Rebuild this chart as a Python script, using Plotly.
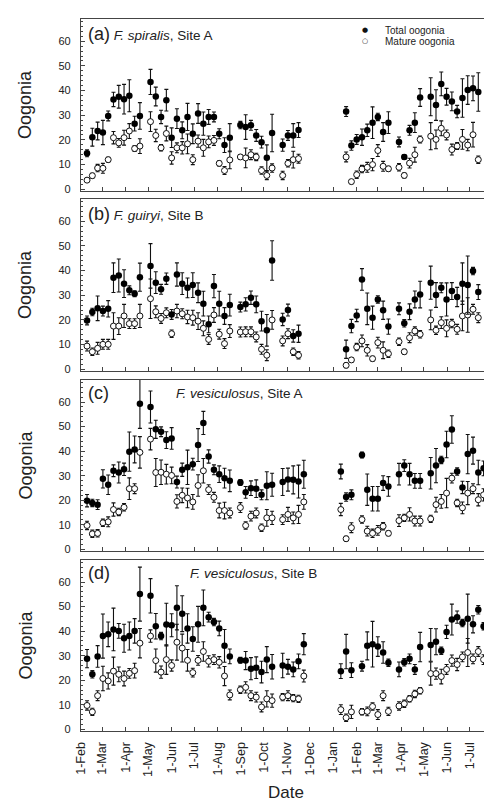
import plotly.graph_objects as go

# ---------------- data ----------------
sample_dates = [
    "2009-02-09", "2009-02-16", "2009-02-23", "2009-03-02", "2009-03-09", "2009-03-16", "2009-03-23",
    "2009-03-30", "2009-04-06", "2009-04-13", "2009-04-20", "2009-04-27", "2009-05-04", "2009-05-11",
    "2009-05-18", "2009-05-25", "2009-06-01", "2009-06-08", "2009-06-15", "2009-06-22", "2009-06-29",
    "2009-07-06", "2009-07-13", "2009-07-20", "2009-07-27", "2009-08-03", "2009-08-10", "2009-08-17",
    "2009-08-24", "2009-08-31", "2009-09-07", "2009-09-14", "2009-09-21", "2009-09-28", "2009-10-05",
    "2009-10-12", "2009-10-19", "2009-10-26", "2009-11-02", "2009-11-09", "2009-11-16", "2009-11-23",
    "2010-01-11", "2010-01-18", "2010-01-25", "2010-02-01", "2010-02-08", "2010-02-15", "2010-02-22",
    "2010-03-01", "2010-03-08", "2010-03-15", "2010-03-22", "2010-03-29", "2010-04-05", "2010-04-12",
    "2010-04-19", "2010-04-26", "2010-05-03", "2010-05-10", "2010-05-17", "2010-05-24", "2010-05-31",
    "2010-06-07", "2010-06-14", "2010-06-21", "2010-06-28", "2010-07-05", "2010-07-12", "2010-07-19",
    "2010-07-25",
]

tick_dates = ["2009-02-01", "2009-03-01", "2009-04-01", "2009-05-01", "2009-06-01", "2009-07-01",
              "2009-08-01", "2009-09-01", "2009-10-01", "2009-11-01", "2009-12-01", "2010-01-01",
              "2010-02-01", "2010-03-01", "2010-04-01", "2010-05-01", "2010-06-01", "2010-07-01"]
tick_labels = ["1-Feb", "1-Mar", "1-Apr", "1-May", "1-Jun", "1-Jul", "1-Aug", "1-Sep", "1-Oct",
               "1-Nov", "1-Dec", "1-Jan", "1-Feb", "1-Mar", "1-Apr", "1-May", "1-Jun", "1-Jul"]
y_ticks = [0, 10, 20, 30, 40, 50, 60]

# Panel (a) F. spiralis, Site A
total_a = [14.6, 21.1, 23.6, 23.0, 29.7, 36.4, 37.5, 36.5, 37.9, 26.6, 29.7, None, 43.5, 37.6, 29.3, 36.1, 20.9,
           28.6, 23.9, 29.3, 22.5, 30.7, 26.6, 29.3, 29.3, 22.5, 17.9, 20.9, None, 26.0, 25.2, 25.9, 21.8, 19.1,
           12.8, 22.8, None, 17.9, 21.8, 21.8, 24.0, None,
           None, 31.5, 17.7, 20.2, 21.1, 23.9, 27.0, 29.3, 23.2, 27.0, None, 19.2, 13.1, 23.9, 27.0, 37.2, None,
           37.5, 34.1, 42.7, 37.5, 35.6, 31.5, 37.0, 40.2, 40.9, 39.4, None, 35.5]
total_a_err = [1.4, 3.6, 3.6, 4.9, 2.0, 2.9, 4.6, 6.0, 6.5, 3.0, 5.4, None, 5.1, 3.8, 2.7, 4.4, 4.0, 4.0, 3.4,
               5.5, 4.0, 4.0, 4.7, 3.0, 2.0, 2.0, 3.0, 5.7, None, 1.5, 5.0, 2.0, 2.4, 2.4, 5.2, 7.6, None, 2.5,
               2.0, 4.8, 3.0, None,
               None, 2.0, 1.9, 2.0, 3.3, 2.5, 6.4, 1.5, 3.8, 4.4, None, 2.0, 1.0, 2.0, 4.0, 3.6, None, 7.7, 6.2,
               4.8, 3.4, 3.8, 2.5, 7.8, 5.8, 5.0, 7.8, None, 5.1]
mature_a = [3.7, 5.5, 8.6, 8.5, 12.0, 20.9, 18.8, 20.9, 23.6, 16.5, 17.5, None, 27.4, 21.8, 16.8, 22.6, 12.7,
            16.8, 16.8, 18.4, 12.0, 19.5, 16.8, 19.2, 19.8, 10.5, 7.6, 11.9, None, 13.1, 12.7, 14.0, 13.1, 7.6,
            5.6, 8.6, None, 5.6, 10.5, 12.0, 12.4, None,
            None, 13.1, 3.1, 5.9, 8.2, 8.9, 10.0, 15.7, 9.3, 8.3, None, 8.9, 5.6, 10.6, 14.0, 20.2, None, 21.5,
            20.2, 24.7, 22.0, 16.1, 17.5, 20.2, 17.9, 22.1, 12.0, None, 20.5]
mature_a_err = [0.8, 1.0, 1.5, 2.0, 1.0, 2.5, 1.8, 3.0, 3.0, 1.2, 3.0, None, 4.0, 2.5, 1.3, 3.0, 2.5, 2.0, 2.5,
                4.0, 2.0, 2.5, 3.4, 2.4, 2.0, 1.0, 1.6, 3.6, None, 1.0, 4.0, 2.0, 1.5, 1.5, 1.7, 1.7, None, 1.7,
                1.5, 3.4, 1.8, None,
                None, 2.0, 0.8, 1.5, 1.5, 2.0, 2.5, 2.4, 2.0, 1.0, None, 1.5, 1.0, 2.0, 3.0, 1.4, None, 5.5, 3.8,
                3.0, 2.0, 2.2, 1.4, 4.0, 2.3, 5.0, 1.5, None, 3.5]

# Panel (b) F. guiryi, Site B
total_b = [19.8, 23.2, 24.7, 23.6, 24.5, 37.1, 38.0, 34.7, 32.0, 30.6, 37.3, None, 41.9, 35.1, 32.4, 36.7, 22.2,
           38.4, 34.7, 33.0, 34.1, 31.0, 26.6, 18.2, 33.7, 26.6, 21.6, 26.0, None, 25.2, 26.3, 29.0, 26.3, 19.5,
           15.8, 44.1, None, 20.2, 24.0, 13.5, 14.4, None,
           None, 8.1, 17.5, 21.8, 36.4, 24.5, 20.9, 28.3, 23.9, 17.3, None, 24.5, 18.6, 23.3, 28.3, 30.3, None,
           35.1, 30.1, 33.0, 28.3, 31.7, 29.3, 34.7, 34.1, 39.8, 31.3, None, 30.7]
total_b_err = [1.8, 1.5, 5.0, 2.0, 3.3, 6.0, 6.7, 5.6, 1.8, 1.2, 5.7, None, 9.0, 4.4, 2.0, 2.3, 2.0, 4.7, 4.4,
               4.0, 5.0, 4.0, 5.0, 3.4, 4.7, 5.0, 3.4, 4.4, None, 2.0, 2.7, 2.7, 3.4, 4.0, 6.4, 8.0, None, 2.5,
               2.4, 2.5, 3.5, None,
               None, 3.7, 2.7, 2.5, 4.4, 6.4, 4.7, 1.5, 3.7, 3.1, None, 2.4, 1.5, 3.2, 3.4, 5.4, None, 6.7, 5.0,
               2.0, 6.7, 3.4, 3.9, 8.4, 11.8, 1.5, 3.0, None, 5.2]
mature_b = [9.4, 7.1, 8.5, 10.1, 10.1, 17.5, 17.5, 21.6, 18.5, 18.5, 21.6, None, 28.6, 23.3, 20.6, 22.9, 14.4,
            23.6, 22.5, 21.2, 20.9, 19.5, 16.6, 12.1, 22.0, 14.2, 10.4, 15.5, None, 15.1, 15.2, 15.2, 13.1, 8.1,
            5.7, 20.0, None, 11.5, 14.4, 7.1, 5.7, None,
            None, 1.6, 3.8, 9.0, 11.5, 7.7, 4.3, 10.8, 7.7, 6.3, None, 11.2, 7.1, 12.8, 15.5, 14.2, None, 20.0,
            15.8, 18.9, 16.6, 18.5, 16.2, 21.6, 22.0, 24.3, 20.9, None, 20.2]
mature_b_err = [2.0, 1.5, 2.4, 2.0, 2.0, 5.4, 3.4, 4.7, 2.0, 2.0, 4.7, None, 8.0, 2.4, 2.0, 2.0, 1.5, 2.7, 2.0,
                2.7, 3.0, 3.4, 3.0, 2.0, 3.0, 2.0, 2.0, 2.6, None, 2.0, 2.0, 2.0, 2.0, 2.0, 2.2, 3.8, None, 2.0,
                2.0, 1.5, 1.5, None,
                None, 1.0, 1.0, 1.5, 2.4, 2.3, 1.0, 2.2, 3.4, 1.5, None, 1.5, 1.0, 2.0, 1.7, 1.5, None, 4.0, 1.7,
                2.4, 3.4, 1.7, 2.0, 6.0, 7.0, 2.0, 2.0, None, 2.4]

# Panel (c) F. vesiculosus, Site A
total_c = [19.8, 18.9, 18.2, 28.7, 26.3, 32.0, 31.3, 32.6, 39.8, 40.7, 59.3, None, 58.0, 48.9, 47.9, 44.5, 45.2,
           27.4, 32.4, 33.4, 34.7, 42.5, 51.5, 37.8, 32.4, 30.6, 29.0, 27.9, None, 27.2, 23.2, 24.9, 24.7, 22.2,
           25.9, 26.3, None, 27.4, 28.4, 28.3, 27.6, 30.6,
           31.7, 21.3, 22.2, None, 38.4, 24.3, 20.6, 20.6, 27.0, 25.6, None, 30.6, 34.1, 30.6, 27.9, 27.9, None,
           31.0, 34.1, 36.4, 42.7, 48.8, 31.7, 25.2, 38.8, 40.2, 31.3, 33.0, 31.3]
total_c_err = [2.5, 1.5, 2.0, 3.7, 4.0, 2.4, 4.3, 2.5, 8.0, 5.5, 10.0, None, 6.5, 3.7, 2.0, 3.4, 4.4, 2.4, 2.7,
               7.0, 2.4, 6.7, 4.7, 2.7, 2.0, 3.4, 4.0, 4.4, None, 1.2, 2.4, 3.0, 3.6, 2.0, 5.7, 4.7, None, 5.5,
               4.7, 5.7, 6.7, 5.7,
               3.0, 1.7, 2.0, None, 1.2, 6.4, 5.0, 5.0, 3.0, 4.0, None, 4.4, 2.4, 4.4, 3.0, 3.0, None, 6.4, 7.0,
               1.5, 5.4, 5.6, 1.5, 2.5, 8.0, 5.5, 5.0, 3.0, 5.0]
mature_c = [9.7, 6.3, 6.5, 10.8, 11.2, 16.2, 15.2, 17.1, 24.7, 24.7, 39.5, None, 44.9, 31.3, 31.4, 30.6, 30.1,
            19.5, 22.0, 20.9, 19.3, 26.0, 32.0, 24.3, 21.2, 15.8, 15.8, 14.8, None, 17.0, 9.7, 13.5, 14.8, 8.8,
            12.8, 12.8, None, 12.1, 14.2, 12.8, 14.2, 19.3,
            16.2, 4.3, 8.8, None, 12.1, 7.4, 6.5, 7.7, 9.4, 6.5, None, 11.7, 12.8, 14.2, 11.5, 11.5, None, 12.4,
            18.2, 19.5, 22.9, 29.0, 18.9, 16.9, 22.9, 24.7, 20.2, 22.2, 21.6]
mature_c_err = [1.7, 1.5, 1.5, 1.5, 2.0, 2.7, 1.5, 1.5, 4.4, 2.0, 6.4, None, 4.4, 5.7, 5.0, 4.0, 3.4, 2.7, 3.0,
                4.0, 3.0, 4.4, 5.0, 2.0, 2.0, 3.0, 3.4, 2.0, None, 2.0, 1.5, 2.0, 2.0, 1.5, 3.4, 2.7, None, 2.0,
                2.9, 2.4, 3.7, 3.0,
                2.5, 1.0, 2.0, None, 1.5, 2.0, 1.7, 2.0, 1.5, 1.0, None, 2.4, 1.5, 2.7, 2.0, 2.0, None, 1.5, 3.0,
                2.8, 6.0, 2.0, 1.5, 2.4, 4.7, 2.0, 2.5, 2.5, 3.4]

# Panel (d) F. vesiculosus, Site B
total_d = [28.8, 22.4, 29.7, 38.0, 38.7, 40.7, 40.1, 37.1, 38.0, 40.1, 55.1, None, 54.4, 42.0, 38.0, 42.7, 42.4,
           49.5, 47.1, 41.1, 36.8, 42.8, 49.5, 45.7, 43.7, 41.1, 34.0, 29.7, None, 28.1, 28.0, 24.7, 25.1, 23.3,
           28.4, 25.5, None, 26.0, 25.5, 24.4, 27.7, 34.7,
           23.7, 31.7, 24.1, None, 25.7, 34.0, 34.7, 33.7, 31.3, 27.1, None, 24.4, 27.3, 28.7, 24.4, 33.5, None,
           34.4, 35.7, 32.0, 39.7, 44.7, 45.7, 43.3, 45.1, 42.8, 48.7, 42.0, 45.7]
total_d_err = [3.7, 1.5, 4.4, 9.0, 5.0, 8.7, 3.0, 5.7, 5.7, 5.0, 11.0, None, 7.0, 5.2, 1.5, 8.7, 4.7, 9.0, 7.3,
               6.0, 5.0, 7.3, 7.3, 2.0, 1.5, 3.0, 6.7, 3.0, None, 1.2, 3.7, 4.5, 4.4, 4.4, 5.3, 5.0, None, 5.0,
               3.0, 3.0, 3.0, 4.3,
               3.0, 7.0, 3.0, None, 2.0, 5.7, 9.3, 4.0, 4.4, 1.5, None, 3.0, 1.5, 2.0, 2.0, 6.0, None, 6.7, 5.3,
               1.5, 2.7, 6.3, 2.5, 1.5, 10.0, 3.5, 1.7, 1.5, 3.7]
mature_d = [9.7, 7.1, 13.7, 20.7, 19.7, 23.7, 22.4, 20.7, 22.8, 23.9, 35.1, None, 38.0, 28.0, 23.3, 28.4, 26.0,
            35.5, 33.1, 28.1, 23.1, 28.1, 31.7, 27.7, 28.4, 27.3, 21.7, 14.0, None, 16.1, 17.1, 13.7, 13.1, 9.1,
            12.4, 11.7, None, 13.1, 13.7, 12.7, 12.4, 21.7,
            8.0, 4.7, 7.1, None, 7.1, 7.3, 9.3, 6.0, 13.7, 7.3, None, 9.5, 10.4, 12.4, 14.4, 15.7, None, 22.7,
            22.7, 21.5, 24.4, 28.0, 26.4, 29.5, 31.3, 28.7, 31.7, 28.4, 31.7]
mature_d_err = [1.9, 1.5, 2.0, 5.0, 3.3, 5.7, 3.0, 3.0, 2.0, 3.0, 6.0, None, 2.5, 4.7, 2.5, 6.0, 2.3, 7.3, 5.7,
                4.4, 1.8, 2.0, 4.0, 2.3, 2.0, 2.3, 3.9, 2.0, None, 1.5, 2.3, 2.0, 2.0, 2.0, 3.3, 2.7, None, 1.5,
                2.0, 1.5, 1.5, 2.4,
                2.0, 1.5, 2.7, None, 1.3, 1.8, 1.5, 2.0, 2.0, 1.7, None, 1.7, 1.5, 1.3, 1.5, 1.3, None, 4.7, 2.3,
                3.0, 2.0, 2.3, 2.5, 2.0, 5.7, 2.0, 2.0, 2.0, 2.0]

panel_letters = ["(a)", "(b)", "(c)", "(d)"]
panel_species = ["F. spiralis", "F. guiryi", "F. vesiculosus", "F. vesiculosus"]
panel_sites = ["Site A", "Site B", "Site A", "Site B"]
series_names = ["Total oogonia", "Mature oogonia"]

panels = [
    (total_a, total_a_err, mature_a, mature_a_err),
    (total_b, total_b_err, mature_b, mature_b_err),
    (total_c, total_c_err, mature_c, mature_c_err),
    (total_d, total_d_err, mature_d, mature_d_err),
]
for p in panels:
    for s in p:
        assert len(s) == len(sample_dates), (len(s), len(sample_dates))

# ---------------- layout geometry ----------------
W, H = 492, 801
ML, MR, MT, MB = 73, 10, 11, 78
plot_h = H - MT - MB
panel_px = [(11, 183), (191, 363), (372, 543), (552, 723)]
def py(p):
    return (H - MB - p) / plot_h
def px(p):
    return (p - ML) / (W - ML - MR)

domains = [[py(b), py(t)] for t, b in panel_px]
domains[0][1] = 1.0
domains[3][0] = 0.0

FONT = "Liberation Sans, Arial, Helvetica, sans-serif"
AX = "#444444"
TXT = "#222222"

fig = go.Figure()
for i, (tot, tot_e, mat, mat_e) in enumerate(panels):
    n = i + 1
    xa = "x" if n == 1 else f"x{n}"
    ya = "y" if n == 1 else f"y{n}"
    fig.add_trace(go.Scatter(
        x=sample_dates, y=mat, mode="markers", name=series_names[1], showlegend=False,
        xaxis=xa, yaxis=ya,
        marker=dict(symbol="circle", size=6, color="white", line=dict(color="#111111", width=1)),
        error_y=dict(type="data", array=mat_e, visible=True, color="#111111", thickness=1.1, width=2),
    ))
    fig.add_trace(go.Scatter(
        x=sample_dates, y=tot, mode="markers", name=series_names[0], showlegend=False,
        xaxis=xa, yaxis=ya,
        marker=dict(symbol="circle", size=6.5, color="black"),
        error_y=dict(type="data", array=tot_e, visible=True, color="#111111", thickness=1.1, width=2),
    ))

layout = dict(
    width=W, height=H,
    margin=dict(l=ML, r=MR, t=MT, b=MB),
    paper_bgcolor="white", plot_bgcolor="white",
    font=dict(family=FONT, color=TXT),
    showlegend=False,
)
for i in range(4):
    n = i + 1
    xk = "xaxis" if n == 1 else f"xaxis{n}"
    yk = "yaxis" if n == 1 else f"yaxis{n}"
    ya = "y" if n == 1 else f"y{n}"
    xa = "x" if n == 1 else f"x{n}"
    layout[xk] = dict(
        domain=[0, 1], anchor=ya, type="date",
        range=["2009-02-01", "2010-07-27 12:00"],
        tickmode="array", tickvals=tick_dates, ticktext=tick_labels,
        ticks="inside", ticklen=4, tickwidth=1, tickcolor=AX,
        showline=True, mirror=True, linecolor=AX, linewidth=1.3,
        showgrid=False, zeroline=False,
        showticklabels=(n == 4), tickangle=-90, ticklabelstandoff=5,
        tickfont=dict(size=12.5, color=TXT, family=FONT),
    )
    if n > 1:
        layout[xk]["matches"] = "x"
    layout[yk] = dict(
        domain=domains[i], anchor=xa,
        range=[-0.7, 69],
        tickmode="array", tickvals=y_ticks,
        ticks="inside", ticklen=4, tickwidth=1, tickcolor=AX,
        minor=dict(tickmode="linear", tick0=0, dtick=2, ticks="inside", ticklen=2, tickcolor=AX, showgrid=False),
        showline=True, mirror=True, linecolor=AX, linewidth=1.3,
        showgrid=False, zeroline=False, ticklabelstandoff=7,
        tickfont=dict(size=11, color=TXT, family=FONT),
    )

annotations = []
for i in range(4):
    t, b = panel_px[i]
    annotations.append(dict(
        text="Oogonia", xref="paper", yref="paper", x=px(17), y=py((t + b) / 2),
        xanchor="center", yanchor="middle", textangle=-90, showarrow=False,
        font=dict(size=18, color=TXT, family=FONT),
    ))
annotations.append(dict(
    text="Date", xref="paper", yref="paper", x=0.5, y=py(796), xanchor="center", yanchor="bottom",
    showarrow=False, font=dict(size=17, color=TXT, family=FONT),
))
label_y = [26, 206, 385, 565]
title_x = [None, None, 166, 180]
for i in range(4):
    if title_x[i] is None:
        annotations.append(dict(
            text=f"<span style='font-size:18px'>{panel_letters[i]}</span> <i>{panel_species[i]}</i>, {panel_sites[i]}",
            xref="paper", yref="paper", x=px(78), y=py(label_y[i]), xanchor="left", yanchor="middle",
            showarrow=False, font=dict(size=13.5, color=TXT, family=FONT),
        ))
    else:
        annotations.append(dict(
            text=panel_letters[i], xref="paper", yref="paper", x=px(78), y=py(label_y[i]),
            xanchor="left", yanchor="middle", showarrow=False, font=dict(size=18, color=TXT, family=FONT),
        ))
        annotations.append(dict(
            text=f"<i>{panel_species[i]}</i>, {panel_sites[i]}",
            xref="paper", yref="paper", x=px(title_x[i]), y=py(label_y[i]), xanchor="left", yanchor="middle",
            showarrow=False, font=dict(size=13.5, color=TXT, family=FONT),
        ))
# legend (panel a, top right)
legend_rows = [(22.5, "●", series_names[0]), (33, "○", series_names[1])]
for yy, sym, name in legend_rows:
    annotations.append(dict(
        text=sym, xref="paper", yref="paper", x=px(357), y=py(yy), xanchor="center", yanchor="middle",
        showarrow=False, font=dict(size=7, color="#111111", family="DejaVu Sans"),
    ))
    annotations.append(dict(
        text=name, xref="paper", yref="paper", x=px(375), y=py(yy), xanchor="left", yanchor="middle",
        showarrow=False, font=dict(size=10, color=TXT, family=FONT),
    ))
layout["annotations"] = annotations

fig.update_layout(**layout)
fig.write_html("out.html")
